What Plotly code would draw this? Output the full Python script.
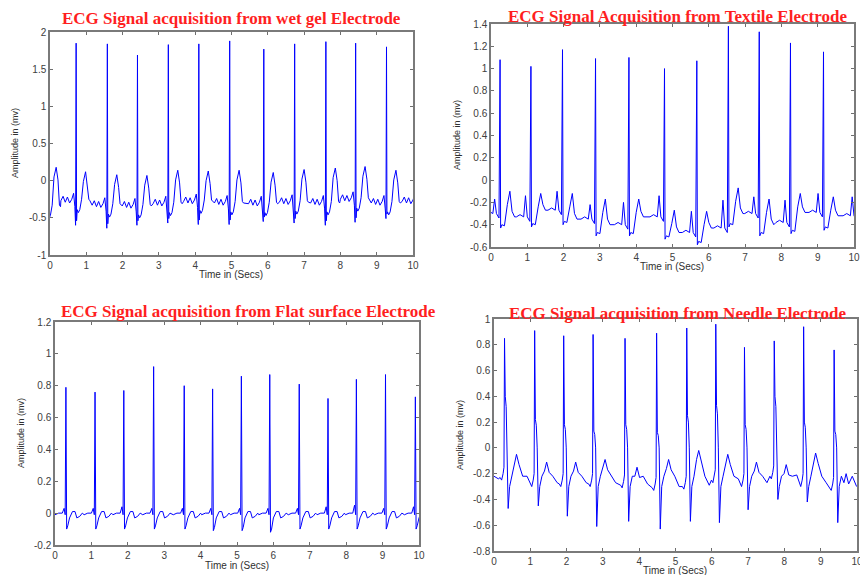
import plotly.graph_objects as go

W, H = 860, 575

# ---------------- Data ----------------
# Panel 1: wet gel electrode (beats at first/last positions lie just outside the 0-10 s window)
wet_r_times = [-0.09, 0.72, 1.58, 2.41, 3.26, 4.10, 4.95, 5.89, 6.74, 7.60, 8.42, 9.27, 10.12]
wet_r_amps = [1.80, 1.85, 1.84, 1.69, 1.83, 1.84, 1.88, 1.77, 1.84, 1.87, 1.85, 1.80, 1.80]
wet_q_dips = [-0.55, -0.60, -0.64, -0.60, -0.57, -0.59, -0.59, -0.55, -0.57, -0.60, -0.56, -0.51, -0.55]
wet_t_amps = [0.18, 0.12, 0.08, 0.07, 0.14, 0.13, 0.14, 0.11, 0.15, 0.17, 0.19, 0.14, 0.14]
wet_baseline = [-0.35, -0.27, -0.33, -0.34, -0.31, -0.28, -0.30, -0.31, -0.29, -0.30, -0.25, -0.30, -0.28]
wet_tpl_offsets = [-0.42, -0.36, -0.30, -0.24, -0.18, -0.12, -0.07, -0.035, -0.015, 0.0,
                   0.012, 0.03, 0.06, 0.10, 0.15, 0.20, 0.26, 0.31, 0.35, 0.38]

# Panel 2: textile electrode
tex_r_times = [0.25, 1.10, 1.97, 2.88, 3.80, 4.78, 5.67, 6.54, 7.39, 8.25, 9.16, 10.10]
tex_r_amps = [1.08, 1.02, 1.17, 1.09, 1.10, 1.00, 1.07, 1.38, 1.33, 1.23, 1.15, 1.10]
tex_pre_base = [-0.30, -0.33, -0.27, -0.35, -0.40, -0.33, -0.47, -0.43, -0.30, -0.38, -0.29, -0.32]
tex_p_amps = [-0.17, -0.14, -0.10, -0.22, -0.20, -0.14, -0.28, -0.18, -0.15, -0.18, -0.12, -0.15]
tex_s_dips = [-0.43, -0.42, -0.40, -0.50, -0.50, -0.53, -0.58, -0.42, -0.50, -0.48, -0.45, -0.45]
tex_t_amps = [-0.10, -0.12, -0.12, -0.17, -0.17, -0.27, -0.28, -0.07, -0.17, -0.12, -0.15, -0.15]
tex_post_base = [-0.33, -0.27, -0.35, -0.40, -0.33, -0.47, -0.43, -0.30, -0.40, -0.29, -0.32, -0.32]
tex_tpl_offsets = [-0.40, -0.30, -0.20, -0.15, -0.10, -0.03, 0.0, 0.015, 0.05, 0.12, 0.20, 0.27, 0.33, 0.40]

# Panel 3: flat surface electrode
flat_r_times = [0.30, 1.10, 1.89, 2.71, 3.55, 4.33, 5.12, 5.90, 6.71, 7.50, 8.28, 9.08, 9.90]
flat_r_amps = [0.79, 0.76, 0.77, 0.92, 0.80, 0.78, 0.86, 0.87, 0.81, 0.72, 0.84, 0.87, 0.73]
flat_p_amps = [0.03, 0.03, 0.04, 0.03, 0.03, 0.03, 0.03, 0.03, 0.03, 0.04, 0.05, 0.03, 0.04]
flat_s_dips = [-0.10, -0.10, -0.10, -0.10, -0.10, -0.11, -0.11, -0.12, -0.10, -0.10, -0.10, -0.10, -0.10]
flat_tpl_offsets = [-0.30, -0.20, -0.10, -0.05, -0.02, 0.0, 0.02, 0.05, 0.10, 0.18, 0.25, 0.30, 0.38, 0.45]

# Panel 4: needle electrode
ndl_r_times = [-0.50, 0.29, 1.12, 1.92, 2.73, 3.61, 4.48, 5.31, 6.11, 6.90, 7.72, 8.53, 9.37]
ndl_r_amps = [0.85, 0.85, 0.91, 0.87, 0.88, 0.85, 0.89, 0.93, 0.96, 0.78, 0.83, 0.94, 0.76]
ndl_notch = [0.20, 0.40, 0.22, 0.18, 0.13, 0.18, 0.12, 0.25, 0.33, 0.18, 0.40, 0.20, 0.13]
ndl_s_dips = [-0.45, -0.47, -0.45, -0.53, -0.61, -0.57, -0.63, -0.57, -0.58, -0.48, -0.40, -0.42, -0.58]
ndl_t_amps = [-0.10, -0.05, -0.11, -0.11, -0.09, -0.15, -0.09, -0.02, -0.05, -0.11, -0.13, -0.04, -0.20]
ndl_baseline = [-0.27, -0.25, -0.30, -0.30, -0.30, -0.31, -0.33, -0.32, -0.27, -0.30, -0.24, -0.30, -0.33]
ndl_tpl_offsets = [-0.12, -0.08, -0.04, -0.015, 0.0, 0.02, 0.045, 0.07, 0.10, 0.14, 0.20, 0.27, 0.33, 0.40, 0.50, 0.62]

titles = ["ECG Signal acquisition from wet gel Electrode",
          "ECG Signal Acquisition from Textile Electrode",
          "ECG Signal acquisition from Flat surface Electrode",
          "ECG Signal acquisition from Needle Electrode"]
x_title = "Time in (Secs)"
y_title = "Amplitude in (mv)"

x_ticks = [0, 1, 2, 3, 4, 5, 6, 7, 8, 9, 10]
y_ticks_wet = [-1, -0.5, 0, 0.5, 1, 1.5, 2]
y_ticks_tex = [-0.6, -0.4, -0.2, 0, 0.2, 0.4, 0.6, 0.8, 1, 1.2, 1.4]
y_ticks_flat = [-0.2, 0, 0.2, 0.4, 0.6, 0.8, 1, 1.2]
y_ticks_ndl = [-0.8, -0.6, -0.4, -0.2, 0, 0.2, 0.4, 0.6, 0.8, 1]


# ---------------- Build the waveforms from the read values ----------------
def stitch(r_times, offsets, value_rows):
    xs, ys = [], []
    for r, vals in zip(r_times, value_rows):
        for o, v in zip(offsets, vals):
            xs.append(round(r + o, 4))
            ys.append(v)
    return xs, ys


wet_rows = []
for a, q, t, b in zip(wet_r_amps, wet_q_dips, wet_t_amps, wet_baseline):
    wet_rows.append([b, b + 0.06, b - 0.02, b + 0.05, b - 0.03, b + 0.02, b + 0.10, b - 0.08, q, a,
                     q + 0.06, b - 0.12, b - 0.16, b - 0.12, b + 0.02, t - 0.13, t, t - 0.17, b + 0.02, b])
wet_x, wet_y = stitch(wet_r_times, wet_tpl_offsets, wet_rows)

tex_rows = []
for a, pb, p, s, t, po in zip(tex_r_amps, tex_pre_base, tex_p_amps, tex_s_dips, tex_t_amps, tex_post_base):
    tex_rows.append([pb, pb + 0.02, pb, p, pb, pb - 0.04, a, s, s + 0.03, s + 0.02,
                     t - 0.12, t, po + 0.05, po])
tex_x, tex_y = stitch(tex_r_times, tex_tpl_offsets, tex_rows)

flat_rows = []
for a, p, s in zip(flat_r_amps, flat_p_amps, flat_s_dips):
    flat_rows.append([-0.01, 0.0, 0.0, p, -0.01, a, s, s + 0.02, -0.03, 0.01, 0.01, -0.03, -0.02, 0.0])
flat_x, flat_y = stitch(flat_r_times, flat_tpl_offsets, flat_rows)

ndl_rows = []
for a, n, s, t, b in zip(ndl_r_amps, ndl_notch, ndl_s_dips, ndl_t_amps, ndl_baseline):
    ndl_rows.append([b + 0.02, b, b + 0.05, b + 0.10, a, n, n * 0.8, 0.0, s, -0.30, -0.22,
                     t - 0.07, t, t - 0.08, -0.22, b + 0.03])
ndl_x, ndl_y = stitch(ndl_r_times, ndl_tpl_offsets, ndl_rows)

# ---------------- Figure ----------------
fig = go.Figure()
series = [(wet_x, wet_y), (tex_x, tex_y), (flat_x, flat_y), (ndl_x, ndl_y)]
for i, (xs, ys) in enumerate(series):
    sfx = "" if i == 0 else str(i + 1)
    fig.add_trace(go.Scatter(x=xs, y=ys, mode="lines", line=dict(color="#0000ff", width=1),
                             xaxis="x" + sfx, yaxis="y" + sfx, showlegend=False, hoverinfo="skip"))


def fx(px):
    return px / W


def fy(py):
    return 1 - py / H


# plot boxes in window pixels: left, right, top, bottom
boxes = [(50, 413, 32, 255), (491, 854, 24, 247), (55, 419, 322, 545), (494, 857, 319, 551)]
y_ranges = [(-1, 2), (-0.6, 1.4), (-0.2, 1.2), (-0.8, 1)]
y_tick_sets = [y_ticks_wet, y_ticks_tex, y_ticks_flat, y_ticks_ndl]


def fmt(v):
    return "%g" % v


axis_common = dict(showline=True, linecolor="#7a7a7a", linewidth=1.5, mirror="ticks",
                   ticks="inside", ticklen=3, tickcolor="#6e6e6e", showgrid=False, zeroline=False,
                   automargin=False,
                   tickfont=dict(family="Liberation Sans, Arial", size=10, color="#404040"))
layout = dict(width=W, height=H, margin=dict(l=0, r=0, t=0, b=0, pad=0), autosize=False,
              paper_bgcolor="white", plot_bgcolor="white", showlegend=False)
for i, ((l, r, t, b), yr, yt) in enumerate(zip(boxes, y_ranges, y_tick_sets)):
    sfx = "" if i == 0 else str(i + 1)
    layout["xaxis" + sfx] = dict(domain=[fx(l), fx(r)], range=[0, 10], anchor="y" + sfx,
                                 tickvals=x_ticks, ticktext=[fmt(v) for v in x_ticks],
                                 ticklabeloverflow="allow", **axis_common)
    layout["yaxis" + sfx] = dict(domain=[fy(b), fy(t)], range=list(yr), anchor="x" + sfx,
                                 tickvals=yt, ticktext=[fmt(v) for v in yt], **axis_common)
fig.update_layout(**layout)

# titles and axis labels (window pixel positions)
title_pos = [(231, 19), (677, 16), (248, 311), (677, 313)]
xlab_pos = [(231, 274), (672, 267), (237, 565), (675, 570)]
ylab_pos = [(15, 143), (457, 135), (21, 433), (460, 435)]
for txt, (tx, ty), (xx, xy), (yx, yy) in zip(titles, title_pos, xlab_pos, ylab_pos):
    fig.add_annotation(text="<b>%s</b>" % txt, x=fx(tx), y=fy(ty), xref="paper", yref="paper",
                       showarrow=False, xanchor="center", yanchor="middle",
                       font=dict(family="Liberation Serif, Times New Roman", size=17, color="#ff1f1f"))
    fig.add_annotation(text=x_title, x=fx(xx), y=fy(xy), xref="paper", yref="paper",
                       showarrow=False, xanchor="center", yanchor="middle",
                       font=dict(family="Liberation Sans, Arial", size=10, color="#303030"))
    fig.add_annotation(text=y_title, x=fx(yx), y=fy(yy), xref="paper", yref="paper",
                       showarrow=False, xanchor="center", yanchor="middle", textangle=-90,
                       font=dict(family="Liberation Sans, Arial", size=9, color="#303030"))

# remove the page's default body margin so the 860x575 figure fills the window exactly
fig.write_html("out.html", config={"displayModeBar": False},
               post_script="document.body.style.margin='0';document.body.style.overflow='hidden';")
